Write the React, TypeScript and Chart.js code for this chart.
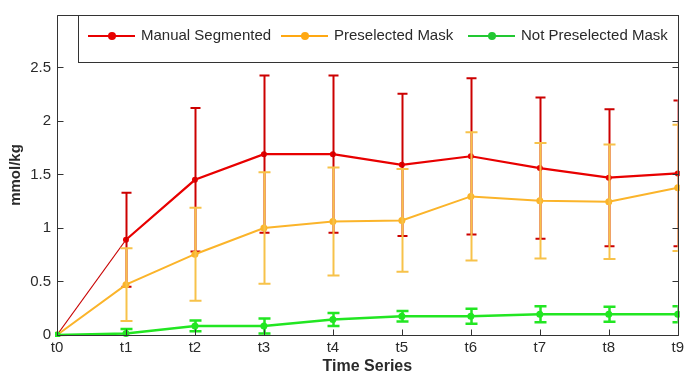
import React, { useEffect, useRef } from "react";
import { Chart, registerables } from "chart.js";

Chart.register(...registerables);

const timeLabels = ["t0", "t1", "t2", "t3", "t4", "t5", "t6", "t7", "t8", "t9"];
const manualMean = [0, 0.89, 1.45, 1.69, 1.69, 1.59, 1.67, 1.56, 1.47, 1.51];
const manualErr = [0, 0.44, 0.67, 0.735, 0.735, 0.665, 0.73, 0.66, 0.64, 0.68];
const preselMean = [0, 0.47, 0.755, 1.0, 1.06, 1.07, 1.295, 1.255, 1.245, 1.375];
const preselErr = [0, 0.34, 0.435, 0.52, 0.505, 0.48, 0.6, 0.54, 0.535, 0.59];
const notPreselMean = [0, 0.015, 0.085, 0.085, 0.145, 0.175, 0.175, 0.194, 0.194, 0.194];
const notPreselErr = [0, 0.04, 0.05, 0.07, 0.06, 0.05, 0.07, 0.075, 0.07, 0.075];
const seriesNames = ["Manual Segmented", "Preselected Mask", "Not Preselected Mask"];
const yTicks = [0, 0.5, 1, 1.5, 2, 2.5];

const FONT = "'Liberation Sans', Arial, sans-serif";
const AXIS_COLOR = "#333333";
const TEXT_COLOR = "#2a2a2a";

const errorBarPlugin = {
  id: "errorBars",
  afterDatasetDraw(chart: any, args: any) {
    const ds: any = chart.data.datasets[args.index];
    if (!ds.errors) return;
    const { ctx, chartArea } = chart;
    const xs = chart.scales.x;
    const ys = chart.scales.y;
    ctx.save();
    ctx.beginPath();
    ctx.rect(chartArea.left, chartArea.top, chartArea.right - chartArea.left, chartArea.bottom - chartArea.top);
    ctx.clip();
    ctx.strokeStyle = ds.errorColor;
    ctx.lineWidth = ds.errorWidth;
    const cap = ds.capHalf;
    ds.data.forEach((m: number, i: number) => {
      const e = ds.errors[i];
      if (!e) return;
      const x = Math.round(xs.getPixelForValue(i)) + 0.5;
      const yHi = ys.getPixelForValue(m + e);
      const yLo = ys.getPixelForValue(m - e);
      ctx.beginPath();
      ctx.moveTo(x, yHi);
      ctx.lineTo(x, yLo);
      ctx.moveTo(x - cap, yHi);
      ctx.lineTo(x + cap, yHi);
      ctx.moveTo(x - cap, yLo);
      ctx.lineTo(x + cap, yLo);
      ctx.stroke();
    });
    ctx.restore();
  },
};

const framePlugin = {
  id: "frame",
  afterDraw(chart: any) {
    const { ctx, chartArea } = chart;
    const { left, right, top, bottom } = chartArea;
    const xs = chart.scales.x;
    const ys = chart.scales.y;
    ctx.save();
    ctx.strokeStyle = AXIS_COLOR;
    ctx.lineWidth = 1;
    const L = Math.round(left) + 0.5;
    const R = Math.round(right) + 0.5;
    const T = Math.round(top) + 0.5;
    const B = Math.round(bottom) + 0.5;
    ctx.beginPath();
    ctx.rect(L, T, R - L, B - T);
    ctx.stroke();
    const tl = 6;
    ctx.beginPath();
    timeLabels.forEach((_, i) => {
      const x = Math.round(xs.getPixelForValue(i)) + 0.5;
      ctx.moveTo(x, B);
      ctx.lineTo(x, B - tl);
      ctx.moveTo(x, T);
      ctx.lineTo(x, T + tl);
    });
    yTicks.forEach((v) => {
      const y = Math.round(ys.getPixelForValue(v)) + 0.5;
      ctx.moveTo(L, y);
      ctx.lineTo(L + tl, y);
      ctx.moveTo(R, y);
      ctx.lineTo(R - tl, y);
    });
    ctx.stroke();

    // legend box
    const boxL = 78.5;
    const boxT = T;
    const boxR = R;
    const boxB = 62.5;
    ctx.fillStyle = "#ffffff";
    ctx.fillRect(boxL, boxT, boxR - boxL, boxB - boxT);
    ctx.strokeStyle = AXIS_COLOR;
    ctx.strokeRect(boxL, boxT, boxR - boxL, boxB - boxT);

    const legendColors = ["#e80000", "#ffa812", "#22c832"];
    const starts = [88, 281, 468];
    const cy = 36;
    ctx.font = "15px " + FONT;
    ctx.textBaseline = "middle";
    ctx.textAlign = "left";
    seriesNames.forEach((name, i) => {
      const sx = starts[i];
      ctx.strokeStyle = legendColors[i];
      ctx.lineWidth = 2;
      ctx.beginPath();
      ctx.moveTo(sx, cy);
      ctx.lineTo(sx + 47, cy);
      ctx.stroke();
      ctx.fillStyle = legendColors[i];
      ctx.beginPath();
      ctx.arc(sx + 24, cy, 4, 0, Math.PI * 2);
      ctx.fill();
      ctx.fillStyle = TEXT_COLOR;
      ctx.fillText(name, sx + 53, cy);
    });
    ctx.restore();
  },
};

export default function App() {
  const ref = useRef<HTMLCanvasElement | null>(null);
  useEffect(() => {
    document.body.style.margin = "0";
    const canvas = ref.current;
    if (!canvas) return;
    const chart = new Chart(canvas, {
      type: "line",
      data: {
        labels: timeLabels,
        datasets: [
          {
            label: seriesNames[0],
            data: manualMean,
            errors: manualErr,
            errorColor: "#cc0000",
            errorWidth: 2,
            capHalf: 5,
            borderColor: "#e80000",
            backgroundColor: "#e80000",
            borderWidth: 2.2,
            segment: {
              borderWidth: (c: any) => (c.p0DataIndex === 0 ? 1.2 : 2.2),
              borderColor: (c: any) => (c.p0DataIndex === 0 ? "#c80000" : "#e80000"),
            },
            pointRadius: 3,
            pointBorderWidth: 0,
            order: 3,
            tension: 0,
            clip: 2,
          } as any,
          {
            label: seriesNames[1],
            data: preselMean,
            errors: preselErr,
            errorColor: "#f7c24a",
            errorWidth: 2,
            capHalf: 6,
            borderColor: "#fbb42a",
            backgroundColor: "#fbb42a",
            borderWidth: 2,
            pointRadius: 3.5,
            pointBorderWidth: 0,
            order: 2,
            tension: 0,
            clip: 2,
          } as any,
          {
            label: seriesNames[2],
            data: notPreselMean,
            errors: notPreselErr,
            errorColor: "#22e622",
            errorWidth: 2.5,
            capHalf: 6,
            borderColor: "#22e622",
            backgroundColor: "#22e622",
            borderWidth: 2.5,
            pointRadius: 3.5,
            pointBorderWidth: 0,
            order: 1,
            tension: 0,
            clip: 2,
          } as any,
        ],
      },
      options: {
        responsive: false,
        animation: false,
        layout: { padding: { top: 10, right: 6, left: 0, bottom: 0 } },
        plugins: {
          legend: { display: false },
          tooltip: { enabled: false },
        },
        scales: {
          x: {
            type: "category",
            offset: false,
            grid: { display: false, drawTicks: false },
            border: { display: false },
            ticks: { padding: 4, color: TEXT_COLOR, font: { family: FONT, size: 15 }, maxRotation: 0, autoSkip: false },
            title: {
              display: true,
              text: "Time Series",
              color: TEXT_COLOR,
              font: { family: FONT, size: 16, weight: "bold" },
              padding: { top: 0, bottom: -2 },
            },
            afterFit: (s: any) => {
              s.height = 39;
            },
          },
          y: {
            type: "linear",
            min: 0,
            max: 2.99,
            grid: { display: false, drawTicks: false },
            border: { display: false },
            afterBuildTicks: (s: any) => {
              s.ticks = yTicks.map((v) => ({ value: v }));
            },
            ticks: {
              padding: 6,
              color: TEXT_COLOR,
              font: { family: FONT, size: 15 },
              callback: (v: any) => String(v),
            },
            title: {
              display: true,
              text: "mmol/kg",
              color: TEXT_COLOR,
              font: { family: FONT, size: 15, weight: "bold" },
              padding: { top: 7, bottom: 0 },
            },
            afterFit: (s: any) => {
              s.width = 57;
            },
          },
        },
      } as any,
      plugins: [errorBarPlugin, framePlugin],
    });
    return () => chart.destroy();
  }, []);
  return (
    <div style={{ width: 688, height: 374 }}>
      <canvas ref={ref} width={688} height={374} style={{ display: "block" }} />
    </div>
  );
}
